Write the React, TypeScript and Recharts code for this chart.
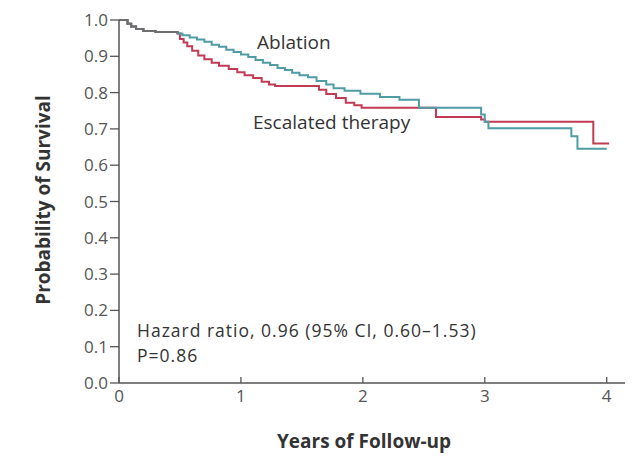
import { LineChart, XAxis, YAxis, Line } from "recharts";

// Kaplan–Meier survival estimates, years of follow-up vs probability
const sharedYears = [0, 0.07, 0.1, 0.14, 0.2, 0.3, 0.48];
const sharedSurv = [1.0, 0.99, 0.982, 0.975, 0.97, 0.967, 0.963];

const ablationYears = [
  0.52, 0.58, 0.64, 0.7, 0.76, 0.82, 0.88, 0.94, 1.0, 1.06, 1.12, 1.18, 1.24,
  1.3, 1.36, 1.42, 1.48, 1.55, 1.62, 1.7, 1.76, 1.85, 1.98, 2.14, 2.3, 2.46,
  2.97, 3.0, 3.03, 3.71, 3.76, 4.0,
];
const ablationSurv = [
  0.958, 0.952, 0.946, 0.94, 0.932, 0.926, 0.918, 0.912, 0.905, 0.898, 0.89,
  0.882, 0.876, 0.868, 0.862, 0.855, 0.848, 0.842, 0.832, 0.822, 0.812, 0.805,
  0.797, 0.788, 0.78, 0.758, 0.74, 0.72, 0.702, 0.68, 0.645, 0.645,
];

const escalatedYears = [
  0.5, 0.53, 0.56, 0.6, 0.65, 0.7, 0.76, 0.82, 0.9, 0.97, 1.03, 1.1, 1.17,
  1.23, 1.28, 1.64, 1.7, 1.78, 1.86, 1.93, 1.99, 2.6, 2.97, 3.0, 3.89, 4.02,
];
const escalatedSurv = [
  0.948, 0.938, 0.928, 0.915, 0.902, 0.892, 0.882, 0.874, 0.865, 0.856, 0.848,
  0.84, 0.83, 0.822, 0.818, 0.808, 0.796, 0.785, 0.772, 0.765, 0.758, 0.733,
  0.726, 0.72, 0.66, 0.66,
];

const xTicks = [0, 1, 2, 3, 4];
const yTicks = [0, 0.1, 0.2, 0.3, 0.4, 0.5, 0.6, 0.7, 0.8, 0.9, 1.0];

const toPoints = (years: number[], surv: number[]) =>
  years.map((t, i) => ({ t, s: surv[i] }));

const shared = toPoints(sharedYears, sharedSurv);
const ablation = [...shared, ...toPoints(ablationYears, ablationSurv)];
const escalated = [...shared, ...toPoints(escalatedYears, escalatedSurv)];

const FONT = "'Open Sans', 'DejaVu Sans', sans-serif";
const AXIS = "#555";

// x ticks point up into the plot, label sits below the axis
const XTick = (props: any) => {
  const { x, y, payload } = props;
  return (
    <g>
      <line x1={x} x2={x} y1={383} y2={377} stroke={AXIS} strokeWidth={1.3} />
      <text
        x={x}
        y={y}
        dy={11}
        textAnchor="middle"
        fill="#555"
        fontSize={17}
        fontFamily={FONT}
      >
        {payload.value}
      </text>
    </g>
  );
};

export default function App() {
  return (
    <div style={{ position: "absolute", left: 0, top: 0, background: "#fff" }}>
      <LineChart
        width={641}
        height={461}
        margin={{ top: 20, right: 16, bottom: 48, left: 0 }}
      >
        <XAxis
          type="number"
          dataKey="t"
          domain={[0, 4.15]}
          ticks={xTicks}
          allowDataOverflow
          height={30}
          tickLine={false}
          tick={<XTick />}
          axisLine={{ stroke: AXIS, strokeWidth: 1.5 }}
        />
        <YAxis
          type="number"
          dataKey="s"
          domain={[0, 1]}
          ticks={yTicks}
          width={119}
          tickSize={9}
          tickMargin={2}
          tickFormatter={(v: number) => v.toFixed(1)}
          tick={{ fill: "#555", fontSize: 17, fontFamily: FONT }}
          tickLine={{ stroke: AXIS, strokeWidth: 1.3 }}
          axisLine={{ stroke: AXIS, strokeWidth: 1.5 }}
        />
        <Line
          data={escalated}
          dataKey="s"
          type="stepAfter"
          stroke="#c23b55"
          strokeWidth={2}
          dot={false}
          isAnimationActive={false}
        />
        <Line
          data={ablation}
          dataKey="s"
          type="stepAfter"
          stroke="#4f9ca4"
          strokeWidth={2}
          dot={false}
          isAnimationActive={false}
        />
        <Line
          data={shared}
          dataKey="s"
          type="stepAfter"
          stroke="#6e6e6e"
          strokeWidth={2}
          dot={false}
          isAnimationActive={false}
        />
        <g fontFamily={FONT} fill="#333">
          <text x={257} y={49} fontSize={19}>
            Ablation
          </text>
          <text x={253} y={129} fontSize={19}>
            Escalated therapy
          </text>
          <text x={137} y={337} fontSize={17.5} letterSpacing={1}>
            Hazard ratio, 0.96 (95% CI, 0.60–1.53)
          </text>
          <text x={137} y={362} fontSize={17.5} letterSpacing={1}>
            P=0.86
          </text>
          <text
            x={364}
            y={448}
            fontSize={19}
            fontWeight={700}
            textAnchor="middle"
          >
            Years of Follow-up
          </text>
          <text
            x={0}
            y={0}
            fontSize={19}
            fontWeight={700}
            textAnchor="middle"
            transform="translate(50 200) rotate(-90)"
          >
            Probability of Survival
          </text>
        </g>
      </LineChart>
    </div>
  );
}
